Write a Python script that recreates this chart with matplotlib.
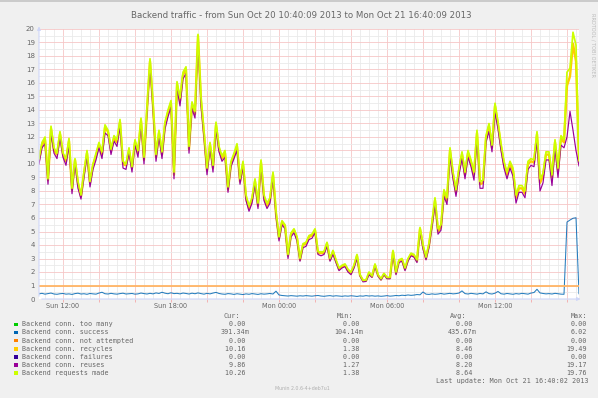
import matplotlib.pyplot as plt
from matplotlib.patches import Rectangle
import numpy as np

W, H = 598, 398

# time axis: hours since Sun 00:00, one sample every 10 minutes
start = 10 + 40 / 60 + 9 / 3600
step = 10 / 60
span = 30

requests = [
    10.4, 11.6, 12.0, 8.9, 12.8, 11.2, 10.8, 12.4, 10.8, 10.4,
    11.9, 8.2, 10.4, 8.7, 7.7, 9.4, 11.0, 8.7, 10.0, 10.8,
    11.6, 10.9, 12.9, 12.5, 11.1, 12.1, 11.8, 13.3, 10.2, 10.0,
    11.2, 9.8, 11.8, 11.0, 13.4, 10.5, 14.2, 17.8, 14.5, 10.7,
    12.5, 10.9, 13.1, 14.0, 14.7, 9.4, 16.1, 14.9, 16.8, 17.2,
    11.3, 14.6, 13.9, 19.6, 14.9, 12.4, 9.7, 11.6, 9.9, 13.1,
    11.3, 10.6, 11.0, 8.3, 10.2, 10.8, 11.5, 8.9, 10.2, 7.7,
    6.9, 7.5, 8.9, 7.1, 10.3, 7.7, 7.1, 7.5, 9.4, 6.5,
    4.6, 5.8, 5.5, 3.3, 4.9, 5.2, 4.6, 3.0, 4.1, 4.2,
    4.7, 4.8, 5.2, 3.5, 3.5, 3.5, 4.2, 3.0, 3.6, 2.9,
    2.3, 2.5, 2.6, 2.2, 2.0, 2.5, 3.3, 1.8, 1.38, 1.4,
    2.0, 1.7, 2.6, 1.8, 1.5, 1.9, 1.6, 1.6, 3.6, 2.0,
    2.9, 3.0, 2.3, 3.0, 3.4, 3.3, 2.9, 5.3, 4.0, 3.1,
    4.1, 5.7, 7.5, 5.2, 5.5, 8.1, 7.5, 11.2, 9.4, 8.1,
    9.7, 10.9, 9.4, 11.0, 10.3, 9.4, 12.5, 8.7, 8.8, 12.1,
    13.0, 11.4, 14.5, 13.1, 11.5, 10.2, 9.4, 10.2, 9.7, 7.7,
    8.4, 8.4, 8.0, 10.2, 10.4, 10.3, 12.4, 8.9, 9.3, 10.9,
    10.9, 9.2, 11.8, 9.7, 12.1, 11.8, 16.8, 17.1, 19.76, 18.8,
    10.26,
]

reuses = [
    10.0, 11.2, 11.5, 8.5, 12.3, 10.8, 10.4, 11.9, 10.5, 9.9,
    11.4, 7.8, 10.0, 8.2, 7.4, 9.0, 10.6, 8.3, 9.6, 10.3,
    11.2, 10.4, 12.3, 12.1, 10.7, 11.7, 11.3, 12.8, 9.7, 9.6,
    10.8, 9.4, 11.4, 10.5, 12.9, 10.0, 13.8, 17.2, 14.0, 10.2,
    12.0, 10.4, 12.6, 13.5, 14.2, 8.9, 15.6, 14.3, 16.3, 16.7,
    10.8, 14.1, 13.4, 19.17, 14.3, 11.9, 9.2, 11.2, 9.4, 12.6,
    10.9, 10.2, 10.5, 7.9, 9.8, 10.4, 11.0, 8.5, 9.8, 7.3,
    6.5, 7.1, 8.5, 6.7, 9.9, 7.3, 6.7, 7.1, 9.0, 6.1,
    4.3, 5.5, 5.2, 3.0, 4.6, 4.9, 4.3, 2.8, 3.8, 3.9,
    4.4, 4.5, 4.9, 3.3, 3.2, 3.3, 3.9, 2.8, 3.3, 2.7,
    2.1, 2.3, 2.4, 2.0, 1.8, 2.3, 3.0, 1.7, 1.27, 1.3,
    1.8, 1.6, 2.4, 1.7, 1.4, 1.8, 1.5, 1.5, 3.3, 1.8,
    2.7, 2.8, 2.1, 2.8, 3.2, 3.1, 2.7, 5.0, 3.7, 2.9,
    3.8, 5.3, 7.0, 4.8, 5.1, 7.6, 7.0, 10.6, 8.9, 7.6,
    9.2, 10.4, 8.9, 10.5, 9.8, 8.8, 11.9, 8.2, 8.2, 11.6,
    12.4, 10.9, 13.8, 12.6, 11.0, 9.7, 8.9, 9.7, 9.1, 7.1,
    7.9, 7.9, 7.5, 9.6, 9.9, 9.8, 11.7, 8.0, 8.6, 10.3,
    10.3, 8.4, 11.1, 9.0, 11.4, 11.2, 12.0, 13.9, 12.5, 11.0,
    9.86,
]

recycles = [
    10.3, 11.4, 11.8, 8.8, 12.6, 11.0, 10.7, 12.2, 10.7, 10.2,
    11.7, 8.1, 10.3, 8.5, 7.6, 9.3, 10.8, 8.6, 9.9, 10.6,
    11.4, 10.7, 12.7, 12.4, 11.0, 11.9, 11.6, 13.1, 10.0, 9.9,
    11.0, 9.7, 11.6, 10.8, 13.2, 10.3, 14.0, 17.6, 14.3, 10.5,
    12.3, 10.7, 12.9, 13.8, 14.5, 9.2, 15.9, 14.7, 16.6, 17.0,
    11.1, 14.4, 13.7, 19.49, 14.7, 12.2, 9.5, 11.4, 9.7, 12.9,
    11.1, 10.4, 10.8, 8.1, 10.0, 10.6, 11.3, 8.7, 10.0, 7.5,
    6.7, 7.3, 8.7, 6.9, 10.1, 7.5, 6.9, 7.3, 9.2, 6.3,
    4.5, 5.7, 5.4, 3.2, 4.8, 5.1, 4.5, 2.9, 4.0, 4.1,
    4.6, 4.7, 5.1, 3.4, 3.4, 3.4, 4.1, 2.9, 3.5, 2.8,
    2.2, 2.4, 2.5, 2.1, 1.9, 2.4, 3.2, 1.75, 1.38, 1.35,
    1.9, 1.65, 2.5, 1.75, 1.45, 1.85, 1.55, 1.55, 3.5, 1.9,
    2.8, 2.9, 2.2, 2.9, 3.3, 3.2, 2.8, 5.2, 3.9, 3.0,
    4.0, 5.5, 7.3, 5.0, 5.3, 7.9, 7.3, 11.0, 9.2, 7.9,
    9.5, 10.7, 9.2, 10.8, 10.1, 9.2, 12.3, 8.5, 8.6, 11.9,
    12.8, 11.2, 14.3, 12.9, 11.3, 10.0, 9.2, 10.0, 9.5, 7.5,
    8.2, 8.2, 7.8, 10.0, 10.2, 10.1, 12.2, 8.6, 9.1, 10.7,
    10.7, 9.0, 11.6, 9.5, 11.9, 11.6, 15.8, 16.5, 18.9, 17.6,
    10.16,
]

success = [
    0.38, 0.42, 0.36, 0.40, 0.44, 0.37, 0.35, 0.39, 0.41, 0.36,
    0.38, 0.34, 0.40, 0.43, 0.37, 0.39, 0.35, 0.41, 0.38, 0.36,
    0.44, 0.50, 0.39, 0.37, 0.42, 0.38, 0.36, 0.40, 0.43, 0.37,
    0.39, 0.41, 0.36, 0.38, 0.44, 0.40, 0.37, 0.42, 0.38, 0.45,
    0.41, 0.50, 0.43, 0.39, 0.46, 0.40, 0.42, 0.38, 0.44, 0.41,
    0.37, 0.43, 0.39, 0.45, 0.40, 0.36, 0.42, 0.38, 0.44, 0.49,
    0.41, 0.37, 0.35, 0.40, 0.38, 0.34, 0.39, 0.36, 0.33, 0.38,
    0.35, 0.40, 0.37, 0.34, 0.39, 0.36, 0.38, 0.41, 0.37, 0.58,
    0.30, 0.26, 0.24, 0.22, 0.25, 0.23, 0.21, 0.24, 0.22, 0.25,
    0.23, 0.21, 0.24, 0.26, 0.22, 0.20, 0.23, 0.25, 0.21, 0.24,
    0.22, 0.20, 0.23, 0.21, 0.24, 0.22, 0.19, 0.23, 0.21, 0.25,
    0.22, 0.24, 0.21, 0.23, 0.20, 0.22, 0.25, 0.21, 0.23, 0.26,
    0.24, 0.28, 0.26, 0.30, 0.27, 0.29, 0.33, 0.31, 0.52, 0.36,
    0.34, 0.38, 0.35, 0.37, 0.41, 0.36, 0.39, 0.42, 0.38, 0.40,
    0.44, 0.60, 0.40, 0.37, 0.42, 0.39, 0.36, 0.41, 0.38, 0.53,
    0.40, 0.37, 0.43, 0.56, 0.39, 0.36, 0.41, 0.38, 0.35, 0.40,
    0.37, 0.42, 0.39, 0.36, 0.44, 0.48, 0.72, 0.45, 0.41, 0.38,
    0.40, 0.37, 0.42, 0.39, 0.36, 0.35, 5.70, 5.85, 5.98, 6.02,
    0.39,
]

zeros = [0.0] * len(requests)
warning_level = 1.0

tick_hours = [12, 18, 24, 30, 36]
tick_labels = ["Sun 12:00", "Sun 18:00", "Mon 00:00", "Mon 06:00", "Mon 12:00"]

legend_names = [
    "Backend conn. too many",
    "Backend conn. success",
    "Backend conn. not attempted",
    "Backend conn. recycles",
    "Backend conn. failures",
    "Backend conn. reuses",
    "Backend requests made",
]
legend_colors = ["#00CC00", "#0066B3", "#FF8000", "#FFCC00", "#330099", "#990099", "#CCFF00"]
cur_vals = ["0.00 ", "391.34m", "0.00 ", "10.16 ", "0.00 ", "9.86 ", "10.26 "]
min_vals = ["0.00 ", "104.14m", "0.00 ", "1.38 ", "0.00 ", "1.27 ", "1.38 "]
avg_vals = ["0.00 ", "435.67m", "0.00 ", "8.46 ", "0.00 ", "8.20 ", "8.64 "]
max_vals = ["0.00", "6.02", "0.00", "19.49", "0.00", "19.17", "19.76"]

title = "Backend traffic - from Sun Oct 20 10:40:09 2013 to Mon Oct 21 16:40:09 2013"
last_update = "Last update: Mon Oct 21 16:40:02 2013"

FONT = "#666666"
AXIS = "#CFD6F8"
MONO = "DejaVu Sans Mono"


def fx(px):
    return px / W


def fy(py):
    return 1 - py / H


fig = plt.figure(figsize=(W / 100, H / 100), dpi=100, facecolor="#F0F0F0")
fig.add_artist(Rectangle((0, fy(2)), 1, 2 / H, transform=fig.transFigure,
                         facecolor="#CBCBCB", edgecolor="none"))

ax = fig.add_axes([fx(39), fy(299), fx(540), 270 / H])
ax.set_facecolor("white")

hours = start + np.arange(len(requests)) * step

ax.plot(hours, zeros, color=legend_colors[0], lw=0.7, zorder=2)
ax.plot(hours, success, color=legend_colors[1], lw=0.75, alpha=0.85, zorder=3)
ax.plot(hours, zeros, color=legend_colors[2], lw=0.7, zorder=2)
ax.axhline(warning_level, color="#FFB566", lw=1.3, zorder=3)
ax.plot(hours, recycles, color=legend_colors[3], lw=1.7, zorder=4)
ax.plot(hours, zeros, color=legend_colors[4], lw=0.7, zorder=2)
ax.plot(hours, reuses, color=legend_colors[5], lw=0.85, zorder=5)
ax.plot(hours, requests, color=legend_colors[6], lw=1.25, zorder=6)

ax.set_xlim(start, start + span)
ax.set_ylim(0, 20)

majors = np.arange(12, 41, 2)
ax.set_xticks(majors)
ax.set_xticklabels([tick_labels[tick_hours.index(h)] if h in tick_hours else "" for h in majors])
ax.set_xticks(np.arange(11, 41, 0.5), minor=True)
ax.set_yticks(range(0, 21))
ax.set_yticks(np.arange(0.5, 20, 1), minor=True)

ax.grid(which="minor", color="#EAEAEA", lw=0.6, zorder=0)
ax.grid(which="major", color="#F6C6C6", lw=0.6, zorder=1)
ax.tick_params(axis="x", which="major", length=2, width=0.6, color="#F4A8A8",
               labelsize=4.7, labelcolor=FONT, pad=1.2)
ax.tick_params(axis="y", which="major", length=0, labelsize=5, labelcolor=FONT, pad=3)
ax.tick_params(which="minor", length=0)

for side in ["top", "right", "left", "bottom"]:
    ax.spines[side].set_visible(False)

# axes with arrows, rrdtool style
ax.annotate("", xy=(0, 1.02), xytext=(0, 0), xycoords="axes fraction",
            arrowprops=dict(arrowstyle="-|>", color=AXIS, lw=0.8, mutation_scale=5),
            annotation_clip=False, zorder=7)
ax.annotate("", xy=(1.008, 0), xytext=(0, 0), xycoords="axes fraction",
            arrowprops=dict(arrowstyle="-|>", color=AXIS, lw=0.8, mutation_scale=5),
            annotation_clip=False, zorder=7)

fig.text(fx(301.5), fy(15), title, ha="center", va="center", fontsize=6.2, color=FONT)
fig.text(fx(593), fy(45), "RRDTOOL / TOBI OETIKER", rotation=270, ha="center",
         va="center", fontsize=3.6, color="#BBBBBB")

# legend block
row_y = [324.3 + 8.15 * k for k in range(len(legend_names))]
for k, name in enumerate(legend_names):
    fig.add_artist(Rectangle((fx(14), fy(row_y[k] + 1.8)), 3.6 / W, 3.6 / H,
                             transform=fig.transFigure, facecolor=legend_colors[k],
                             edgecolor="none"))
    fig.text(fx(22.5), fy(row_y[k]), name, ha="left", va="center", fontsize=4.85,
             family=MONO, color=FONT)
    fig.text(fx(249.5), fy(row_y[k]), cur_vals[k], ha="right", va="center",
             fontsize=4.85, family=MONO, color=FONT)
    fig.text(fx(363.5), fy(row_y[k]), min_vals[k], ha="right", va="center",
             fontsize=4.85, family=MONO, color=FONT)
    fig.text(fx(476.7), fy(row_y[k]), avg_vals[k], ha="right", va="center",
             fontsize=4.85, family=MONO, color=FONT)
    fig.text(fx(586.7), fy(row_y[k]), max_vals[k], ha="right", va="center",
             fontsize=4.85, family=MONO, color=FONT)

for label, right in [("Cur:", 240.5), ("Min:", 353.5), ("Avg:", 466.7), ("Max:", 587.3)]:
    fig.text(fx(right), fy(316), label, ha="right", va="center", fontsize=4.85,
             family=MONO, color=FONT)

fig.text(fx(588.3), fy(381), last_update, ha="right", va="center", fontsize=4.85,
         family=MONO, color=FONT)
fig.text(fx(302), fy(389), "Munin 2.0.6-4+deb7u1", ha="center", va="center",
         fontsize=3.4, color="#B0B0B0")

fig.savefig("out.png", dpi=100, facecolor=fig.get_facecolor())
